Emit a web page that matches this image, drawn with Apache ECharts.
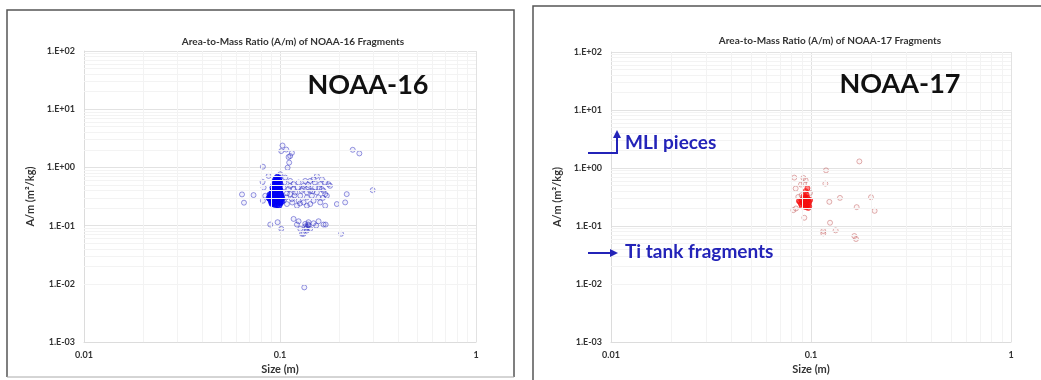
<!DOCTYPE html>
<html>
<head>
<meta charset="utf-8">
<script src="https://cdn.jsdelivr.net/npm/echarts@6.0.0/dist/echarts.min.js"></script>
<style>
html,body{margin:0;padding:0;background:#fff;}
#chart{width:1041px;height:380px;}
</style>
</head>
<body>
<div id="chart"></div>
<script>
// ---- Data ----
const xTickLabels = ['0.01', '0.1', '1'];
const yTickLabels = ['1.E-03', '1.E-02', '1.E-01', '1.E+00', '1.E+01', '1.E+02'];

const panelTitles = ['Area-to-Mass Ratio (A/m) of NOAA-16 Fragments', 'Area-to-Mass Ratio (A/m) of NOAA-17 Fragments'];
const satelliteNames = ['NOAA-16', 'NOAA-17'];
const annotations = ['MLI pieces', 'Ti tank fragments'];
const xAxisTitle = 'Size (m)';
const yAxisTitle = 'A/m (m²/kg)';

// NOAA-16 fragments: [size (m), A/m (m2/kg)]
const noaa16Upper = [
  [0.103, 2.38], [0.1015, 1.91], [0.1076, 2.03], [0.115, 1.78], [0.1127, 1.57],
  [0.1106, 1.51], [0.1114, 1.21], [0.1093, 0.99], [0.0818, 1.03], [0.235, 2.01],
  [0.254, 1.74], [0.297, 0.407]
];
const noaa16Middle = [
  [0.064, 0.344], [0.0655, 0.248], [0.0733, 0.335], [0.0815, 0.565], [0.0825, 0.452],
  [0.0841, 0.326], [0.0818, 0.268], [0.0875, 0.715], [0.1003, 0.763], [0.1064, 0.669],
  [0.1043, 0.452], [0.1127, 0.587], [0.1173, 0.515], [0.1244, 0.55], [0.1319, 0.483],
  [0.1426, 0.587], [0.1483, 0.627], [0.1542, 0.715], [0.1604, 0.515], [0.1701, 0.55],
  [0.1769, 0.515], [0.1127, 0.348], [0.1196, 0.372], [0.1269, 0.326], [0.1371, 0.305],
  [0.1426, 0.397], [0.1542, 0.372], [0.1668, 0.397], [0.1734, 0.326], [0.1085, 0.235],
  [0.122, 0.220], [0.1319, 0.251], [0.1426, 0.235], [0.1604, 0.251], [0.1701, 0.220],
  [0.195, 0.235], [0.215, 0.251], [0.219, 0.348], [0.1106, 0.423], [0.115, 0.286],
  [0.123, 0.452], [0.129, 0.397], [0.1345, 0.587], [0.1398, 0.452], [0.1455, 0.326],
  [0.151, 0.452], [0.1573, 0.305], [0.1636, 0.627], [0.1701, 0.348], [0.1483, 0.268],
  [0.1371, 0.220], [0.1244, 0.268], [0.1173, 0.423], [0.1076, 0.305], [0.1053, 0.55],
  [0.1371, 0.372], [0.1636, 0.423], [0.180, 0.483], [0.1085, 0.36], [0.1155, 0.25],
  [0.1305, 0.43], [0.1505, 0.55], [0.1465, 0.39], [0.1585, 0.45], [0.1265, 0.24],
  [0.1125, 0.48], [0.1045, 0.27], [0.1395, 0.5], [0.1655, 0.3], [0.1185, 0.33]
];
const noaa16Core = [
  [0.097, 0.68], [0.099, 0.65], [0.096, 0.64],
  [0.095, 0.62], [0.097, 0.60], [0.099, 0.58], [0.094, 0.56], [0.096, 0.55], [0.098, 0.53],
  [0.1, 0.52], [0.093, 0.50], [0.095, 0.49], [0.097, 0.48], [0.099, 0.47], [0.092, 0.45],
  [0.094, 0.44], [0.096, 0.43], [0.098, 0.42], [0.1, 0.41], [0.092, 0.40], [0.094, 0.39],
  [0.096, 0.385], [0.098, 0.38], [0.1, 0.37], [0.091, 0.36], [0.093, 0.355], [0.095, 0.35],
  [0.097, 0.345], [0.099, 0.34], [0.101, 0.335], [0.09, 0.33], [0.092, 0.325], [0.094, 0.32],
  [0.096, 0.315], [0.098, 0.31], [0.1, 0.305], [0.091, 0.30], [0.093, 0.295], [0.095, 0.29],
  [0.097, 0.285], [0.099, 0.28], [0.101, 0.275], [0.09, 0.27], [0.092, 0.265], [0.094, 0.26],
  [0.096, 0.255], [0.098, 0.25], [0.1, 0.245], [0.091, 0.24], [0.093, 0.235], [0.095, 0.23],
  [0.097, 0.228], [0.099, 0.225], [0.092, 0.255], [0.096, 0.27], [0.094, 0.30], [0.098, 0.33],
  [0.095, 0.37], [0.097, 0.40], [0.093, 0.42], [0.099, 0.44], [0.095, 0.46], [0.097, 0.51],
  [0.096, 0.58], [0.089, 0.29], [0.089, 0.34], [0.088, 0.30], [0.1, 0.26], [0.1, 0.29],
  [0.101, 0.32], [0.1, 0.35], [0.091, 0.25], [0.09, 0.31], [0.102, 0.3], [0.102, 0.26]
];
const noaa16Lower = [
  [0.1173, 0.1305], [0.1244, 0.119], [0.1345, 0.1073], [0.1398, 0.1146], [0.1483, 0.110],
  [0.1573, 0.119], [0.1668, 0.1045], [0.1269, 0.0882], [0.1371, 0.0826], [0.1426, 0.0882],
  [0.1319, 0.0725], [0.1345, 0.097], [0.1398, 0.1005], [0.1371, 0.094], [0.1295, 0.0725],
  [0.122, 0.1045], [0.153, 0.1005], [0.171, 0.1045], [0.0892, 0.1045], [0.0972, 0.1146],
  [0.1015, 0.0882], [0.205, 0.0725], [0.133, 0.0087], [0.136, 0.089], [0.139, 0.105]
];

// NOAA-17 fragments: [size (m), A/m (m2/kg)]
const noaa17Scatter = [
  [0.1745, 1.30], [0.1189, 0.913], [0.0825, 0.684], [0.0916, 0.675], [0.094, 0.615],
  [0.0923, 0.539], [0.118, 0.539], [0.0838, 0.443], [0.0891, 0.519], [0.0989, 0.373],
  [0.0864, 0.318], [0.0898, 0.340], [0.1396, 0.306], [0.1995, 0.314], [0.1235, 0.2615],
  [0.1692, 0.212], [0.208, 0.183], [0.0816, 0.188], [0.0841, 0.201], [0.0926, 0.139],
  [0.1245, 0.114], [0.1152, 0.082], [0.1152, 0.0748], [0.1328, 0.0843], [0.1647, 0.0674],
  [0.1679, 0.0598]
];
const noaa17Core = [
  [0.092, 0.33], [0.094, 0.32], [0.096, 0.31], [0.093, 0.30], [0.095, 0.29], [0.097, 0.285],
  [0.09, 0.28], [0.092, 0.275], [0.094, 0.27], [0.096, 0.265], [0.098, 0.26], [0.091, 0.255],
  [0.093, 0.25], [0.095, 0.245], [0.097, 0.24], [0.089, 0.24], [0.092, 0.235], [0.094, 0.23],
  [0.096, 0.225], [0.098, 0.22], [0.09, 0.22], [0.093, 0.215], [0.095, 0.21], [0.097, 0.205],
  [0.088, 0.26], [0.087, 0.27], [0.099, 0.28], [0.095, 0.35], [0.094, 0.40], [0.096, 0.45]
];

// ---- Chart ----
const FONT = 'Lato, "Open Sans", sans-serif';
const chart = echarts.init(document.getElementById('chart'), null, {renderer: 'canvas'});

const xMinExp = -2, yMinExp = -3;
function xLabel(v) { const e = Math.round(Math.log10(v)); return xTickLabels[e - xMinExp] || ''; }
function yLabel(v) { const e = Math.round(Math.log10(v)); return yTickLabels[e - yMinExp] || ''; }

// faint minor grid lines at 2..9 x 10^k (log-spaced, like a spreadsheet log chart)
function minorX() { const out = []; for (let k = -2; k < 0; k++) for (let m = 2; m <= 9; m++) out.push({xAxis: m * Math.pow(10, k)}); return out; }
function minorY() { const out = []; for (let k = -3; k < 2; k++) for (let m = 2; m <= 9; m++) out.push({yAxis: m * Math.pow(10, k)}); return out; }

const grids = [
  {left: 84, top: 51, width: 392, height: 293},
  {left: 611, top: 52, width: 400, height: 293}
];

const LABEL_COLOR = '#333333';

function xAxisFor(i) {
  return {
    gridIndex: i, type: 'log', logBase: 10, min: 0.01, max: 1, splitNumber: 2,
    name: xAxisTitle, nameLocation: 'middle', nameGap: 21,
    nameTextStyle: {fontFamily: FONT, fontWeight: 'bold', fontSize: 11, color: LABEL_COLOR},
    axisLine: {show: true, lineStyle: {color: '#dcdcdc'}},
    axisTick: {show: false},
    axisLabel: {formatter: xLabel, fontFamily: FONT, fontWeight: 'bold', fontSize: 9, color: LABEL_COLOR, margin: 8},
    splitLine: {show: true, lineStyle: {color: '#e2e2e2', width: 1}}
  };
}
function yAxisFor(i) {
  return {
    gridIndex: i, type: 'log', logBase: 10, min: 0.001, max: 100, splitNumber: 5,
    name: yAxisTitle, nameLocation: 'middle', nameGap: 48, nameRotate: 90,
    nameTextStyle: {fontFamily: FONT, fontWeight: 'bold', fontSize: 11, color: LABEL_COLOR},
    axisLine: {show: true, lineStyle: {color: '#dcdcdc'}},
    axisTick: {show: false},
    axisLabel: {formatter: yLabel, fontFamily: FONT, fontWeight: 'bold', fontSize: 9, color: LABEL_COLOR, margin: 9},
    splitLine: {show: true, lineStyle: {color: '#e2e2e2', width: 1}}
  };
}

function gridSeries(i) {
  return {
    type: 'scatter', xAxisIndex: i, yAxisIndex: i, data: [], z: 1, silent: true,
    markLine: {
      silent: true, symbol: 'none', animation: false, label: {show: false},
      lineStyle: {color: '#f3f3f3', type: 'solid', width: 1},
      data: minorX().concat(minorY())
    }
  };
}

const blueStyle = {color: 'rgba(40,40,210,0.08)', borderColor: 'rgba(40,40,190,0.6)', borderWidth: 1};
const blueCore = {color: 'rgba(0,0,255,0.75)', borderColor: 'rgba(0,0,235,0.9)', borderWidth: 1};
const redStyle = {color: 'rgba(230,60,60,0.06)', borderColor: 'rgba(190,90,90,0.6)', borderWidth: 1};
const redCore = {color: 'rgba(255,0,0,0.6)', borderColor: 'rgba(240,20,20,0.85)', borderWidth: 1};

function scatter(i, data, style, size) {
  return {type: 'scatter', xAxisIndex: i, yAxisIndex: i, data: data, symbol: 'circle', symbolSize: size || 5,
          itemStyle: style, z: 3, silent: true, animation: false};
}

const ANN_BLUE = '#2323b8';

chart.setOption({
  backgroundColor: '#ffffff',
  animation: false,
  textStyle: {fontFamily: FONT},
  title: [
    {text: panelTitles[0], left: 288, top: 32, textAlign: 'center',
     textStyle: {fontFamily: FONT, fontWeight: 'bold', fontSize: 10, color: LABEL_COLOR}},
    {text: panelTitles[1], left: 825, top: 31, textAlign: 'center',
     textStyle: {fontFamily: FONT, fontWeight: 'bold', fontSize: 10, color: LABEL_COLOR}},
    {text: satelliteNames[0], left: 363, top: 67, textAlign: 'center',
     textStyle: {fontFamily: FONT, fontWeight: 'bold', fontSize: 27, color: '#111111'}},
    {text: satelliteNames[1], left: 895, top: 66, textAlign: 'center',
     textStyle: {fontFamily: FONT, fontWeight: 'bold', fontSize: 27, color: '#111111'}}
  ],
  grid: grids,
  xAxis: [xAxisFor(0), xAxisFor(1)],
  yAxis: [yAxisFor(0), yAxisFor(1)],
  series: [
    gridSeries(0), gridSeries(1),
    scatter(0, noaa16Upper, blueStyle),
    scatter(0, noaa16Middle, blueStyle),
    scatter(0, noaa16Lower, blueStyle),
    scatter(0, noaa16Core, blueCore, 6),
    scatter(1, noaa17Scatter, redStyle),
    scatter(1, noaa17Core, redCore, 5)
  ],
  graphic: [
    // panel frames
    {type: 'polyline', shape: {points: [[7, 377], [7, 10], [514, 10], [514, 377]]}, style: {fill: 'none', stroke: '#555555', lineWidth: 1.5}, z: 0, silent: true},
    {type: 'line', shape: {x1: 7, y1: 377, x2: 514, y2: 377}, style: {stroke: '#aaaaaa', lineWidth: 1}, z: 0, silent: true},
    {type: 'polyline', shape: {points: [[533, 380], [533, 6], [1041, 6]]}, style: {fill: 'none', stroke: '#555555', lineWidth: 1.5}, z: 0, silent: true},
    // MLI pieces arrow
    {type: 'polyline', shape: {points: [[588, 153], [617, 153], [617, 137]]}, style: {stroke: ANN_BLUE, lineWidth: 2, fill: 'none'}, z: 10, silent: true},
    {type: 'polygon', shape: {points: [[613, 138], [621, 138], [617, 130]]}, style: {fill: ANN_BLUE}, z: 10, silent: true},
    {type: 'text', x: 625, y: 143, style: {text: annotations[0], fontFamily: FONT, fontWeight: 'bold', fontSize: 19, fill: ANN_BLUE, textVerticalAlign: 'middle', verticalAlign: 'middle'}, z: 10, silent: true},
    // Ti tank fragments arrow
    {type: 'line', shape: {x1: 588, y1: 253, x2: 611, y2: 253}, style: {stroke: ANN_BLUE, lineWidth: 2}, z: 10, silent: true},
    {type: 'polygon', shape: {points: [[610, 249], [610, 257], [618, 253]]}, style: {fill: ANN_BLUE}, z: 10, silent: true},
    {type: 'text', x: 625, y: 252, style: {text: annotations[1], fontFamily: FONT, fontWeight: 'bold', fontSize: 19, fill: ANN_BLUE, textVerticalAlign: 'middle', verticalAlign: 'middle'}, z: 10, silent: true}
  ]
});
</script>
</body>
</html>
